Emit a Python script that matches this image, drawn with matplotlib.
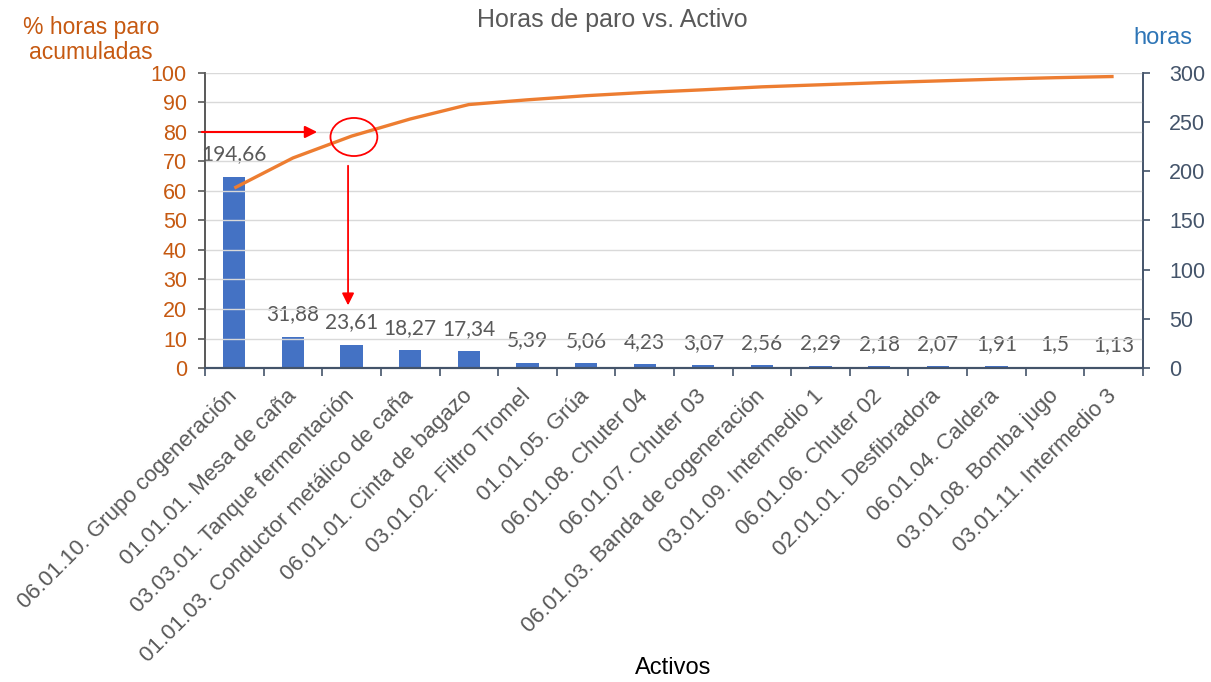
import numpy as np
import matplotlib.pyplot as plt
from matplotlib.patches import Ellipse

# datos del diagrama de Pareto
activos = ['06.01.10. Grupo cogeneración', '01.01.01. Mesa de caña', '03.03.01. Tanque fermentación',
           '01.01.03. Conductor metálico de caña', '06.01.01. Cinta de bagazo', '03.01.02. Filtro Tromel',
           '01.01.05. Grúa', '06.01.08. Chuter 04', '06.01.07. Chuter 03', '06.01.03. Banda de cogeneración',
           '03.01.09. Intermedio 1', '06.01.06. Chuter 02', '02.01.01. Desfibradora', '06.01.04. Caldera',
           '03.01.08. Bomba jugo', '03.01.11. Intermedio 3']
horas = [194.66, 31.88, 23.61, 18.27, 17.34, 5.39, 5.06, 4.23, 3.07, 2.56, 2.29, 2.18, 2.07, 1.91, 1.5, 1.13]
etiquetas = ['194,66', '31,88', '23,61', '18,27', '17,34', '5,39', '5,06', '4,23', '3,07', '2,56',
             '2,29', '2,18', '2,07', '1,91', '1,5', '1,13']
pct_acum = [61.0, 71.2, 78.6, 84.4, 89.3, 90.9, 92.3, 93.4, 94.3, 95.3, 96.0, 96.7, 97.3, 97.9, 98.4, 98.8]

naranja = '#ED7D31'
naranja_txt = '#C65911'
azul = '#4472C4'
azul_eje = '#44546A'
gris = '#595959'

plt.rcParams['font.family'] = ['Liberation Sans', 'DejaVu Sans']

fig = plt.figure(figsize=(12.11, 6.82), dpi=100)
ax = fig.add_axes([0.1693, 0.4604, 0.9438 - 0.1693, 0.893 - 0.4604])
ax2 = ax.twinx()

x = np.arange(len(activos))

# barras (eje derecho, horas)
ax2.bar(x, horas, width=0.38, color=azul, zorder=2)
for xi, h, lab in zip(x, horas, etiquetas):
    ax2.annotate(lab, (xi, h), xytext=(0, 16), textcoords='offset points',
                 ha='center', va='center', fontsize=15, color=gris, family=['Lato', 'DejaVu Sans'])
ax2.set_ylim(0, 300)
ax2.set_yticks(range(0, 301, 50))
ax2.tick_params(axis='y', colors=azul_eje, labelsize=15.5, length=5, width=1.2, pad=14)

# linea acumulada (eje izquierdo, %)
ax.set_zorder(ax2.get_zorder() + 1)
ax.patch.set_visible(False)
ax.plot(x, pct_acum, color=naranja, lw=2.4, zorder=3, solid_capstyle='butt')
ax.set_ylim(0, 100)
ax.set_yticks(range(0, 101, 10))
ax.set_xlim(-0.5, len(activos) - 0.5)
ax.tick_params(axis='y', colors=naranja_txt, labelsize=15.5, length=5, width=1.2, pad=8)
ax.yaxis.grid(True, color='#D9D9D9', lw=1)
ax2.yaxis.grid(False)
ax.set_axisbelow(True)

ax.set_xticks(x)
ax.set_xticklabels(activos, rotation=45, ha='right', va='center', rotation_mode='anchor',
                   fontsize=16, color=gris)
ax.tick_params(axis='x', length=0, pad=18)
ax.set_xticks(np.arange(-0.5, len(activos), 1), minor=True)
ax.tick_params(axis='x', which='minor', length=6, width=1.2, color=azul_eje)

for a in (ax, ax2):
    a.spines['top'].set_visible(False)
    a.spines['left'].set_color(gris)
    a.spines['right'].set_color(azul_eje)
    a.spines['bottom'].set_color(azul_eje)
    a.spines['left'].set_linewidth(1.2)
    a.spines['right'].set_linewidth(1.2)
    a.spines['bottom'].set_linewidth(1.5)
ax.tick_params(axis='y', color=gris)
ax2.tick_params(axis='y', color=azul_eje)

# marcas rojas del 80 %
ax.annotate('', xy=(1.46, 80), xytext=(-0.6, 80), annotation_clip=False,
            arrowprops=dict(arrowstyle='-|>', color='red', lw=1.5, mutation_scale=18))
ax.add_patch(Ellipse((2.04, 78.3), 0.8, 12.9, fill=False, edgecolor='red', lw=1.3, zorder=4))
ax.annotate('', xy=(1.94, 20.3), xytext=(1.94, 69.5),
            arrowprops=dict(arrowstyle='-|>', color='red', lw=1.3, mutation_scale=18))

fig.text(0.5055, 0.971, 'Horas de paro vs. Activo', ha='center', va='center', fontsize=18, color=gris)
fig.text(0.075, 0.941, '% horas paro\nacumuladas', ha='center', va='center', fontsize=16.5,
         color=naranja_txt, linespacing=1.1)
fig.text(0.9605, 0.945, 'horas', ha='center', va='center', fontsize=17, color='#2E75B6')
fig.text(0.556, 0.02, 'Activos', ha='center', va='center', fontsize=17, color='black')

fig.savefig('out.png', dpi=100)
